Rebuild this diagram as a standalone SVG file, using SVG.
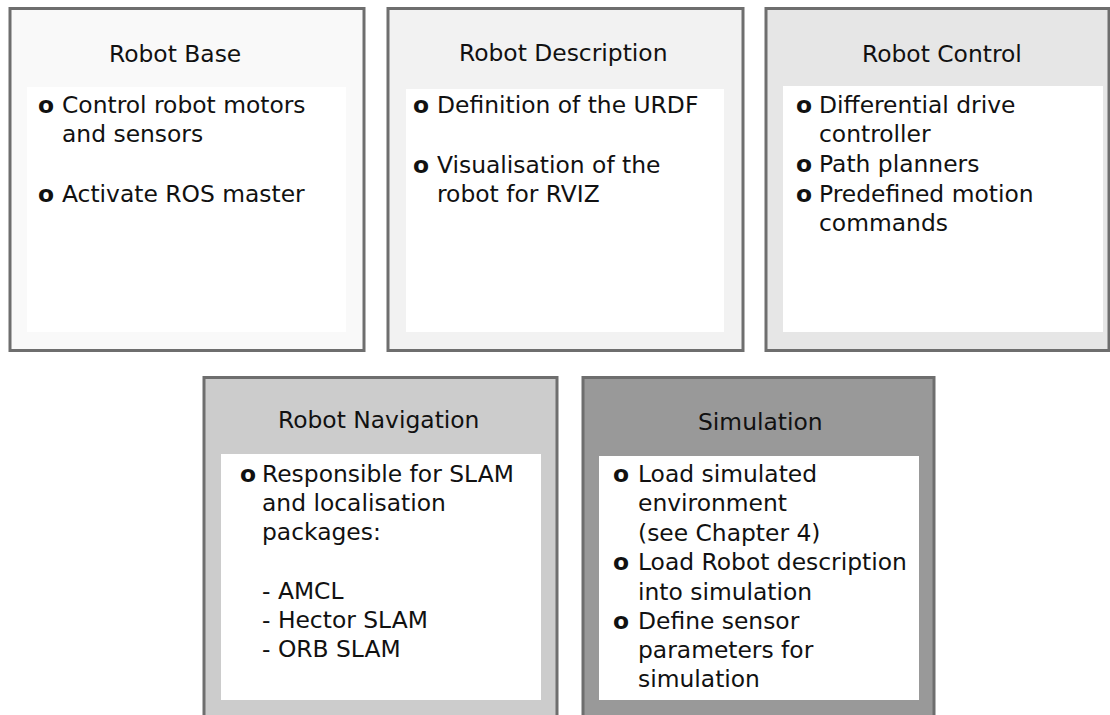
<svg xmlns="http://www.w3.org/2000/svg" width="1110" height="715" viewBox="0 0 1110 715">
  <style>
    .frame { stroke: #6e6e6e; stroke-width: 3; }
    .panel { fill: #ffffff; stroke: none; }
    text { font-family: "DejaVu Sans", "Liberation Sans", sans-serif; font-size: 23.4px; fill: #111111; }
    .bullet { font-weight: bold; }
  </style>
  <rect x="0" y="0" width="1110" height="715" fill="#ffffff"/>

  <g id="robot-base">
    <rect class="frame" x="10" y="8.5" width="354" height="342" fill="#f9f9f9"/>
    <rect class="panel" x="27" y="87" width="319" height="245"/>
    <text x="109" y="62">Robot Base</text>
    <text class="bullet" x="38" y="113">o</text>
    <text x="62" y="113">Control robot motors</text>
    <text x="62" y="142">and sensors</text>
    <text class="bullet" x="38" y="202">o</text>
    <text x="62" y="202">Activate ROS master</text>
  </g>

  <g id="robot-description">
    <rect class="frame" x="388" y="8.5" width="355" height="342" fill="#f2f2f2"/>
    <rect class="panel" x="406" y="89" width="318" height="243"/>
    <text x="459" y="61">Robot Description</text>
    <text class="bullet" x="413" y="113">o</text>
    <text x="437" y="113">Definition of the URDF</text>
    <text class="bullet" x="413" y="173">o</text>
    <text x="437" y="173">Visualisation of the</text>
    <text x="437" y="202">robot for RVIZ</text>
  </g>

  <g id="robot-control">
    <rect class="frame" x="766" y="8.5" width="343" height="342" fill="#e6e6e6"/>
    <rect class="panel" x="783" y="86" width="320" height="246"/>
    <text x="862" y="62">Robot Control</text>
    <text class="bullet" x="796" y="113">o</text>
    <text x="819" y="113">Differential drive</text>
    <text x="819" y="142">controller</text>
    <text class="bullet" x="796" y="172">o</text>
    <text x="819" y="172">Path planners</text>
    <text class="bullet" x="796" y="202">o</text>
    <text x="819" y="202">Predefined motion</text>
    <text x="819" y="231">commands</text>
  </g>

  <g id="robot-navigation">
    <rect class="frame" x="204" y="377.5" width="353" height="350" fill="#cccccc"/>
    <rect class="panel" x="221" y="454" width="320" height="246"/>
    <text x="278" y="428">Robot Navigation</text>
    <text class="bullet" x="240" y="482">o</text>
    <text x="262" y="482">Responsible for SLAM</text>
    <text x="262" y="511">and localisation</text>
    <text x="262" y="540">packages:</text>
    <text x="262" y="599">- AMCL</text>
    <text x="262" y="628">- Hector SLAM</text>
    <text x="262" y="657">- ORB SLAM</text>
  </g>

  <g id="simulation">
    <rect class="frame" x="583" y="377.5" width="351" height="350" fill="#999999"/>
    <rect class="panel" x="599" y="456" width="320" height="244"/>
    <text x="698" y="430">Simulation</text>
    <text class="bullet" x="613" y="482">o</text>
    <text x="638" y="482">Load simulated</text>
    <text x="638" y="511">environment</text>
    <text x="638" y="541">(see Chapter 4)</text>
    <text class="bullet" x="613" y="570">o</text>
    <text x="638" y="570">Load Robot description</text>
    <text x="638" y="600">into simulation</text>
    <text class="bullet" x="613" y="629">o</text>
    <text x="638" y="629">Define sensor</text>
    <text x="638" y="658">parameters for</text>
    <text x="638" y="687">simulation</text>
  </g>

  <g id="connectors"/>
</svg>
